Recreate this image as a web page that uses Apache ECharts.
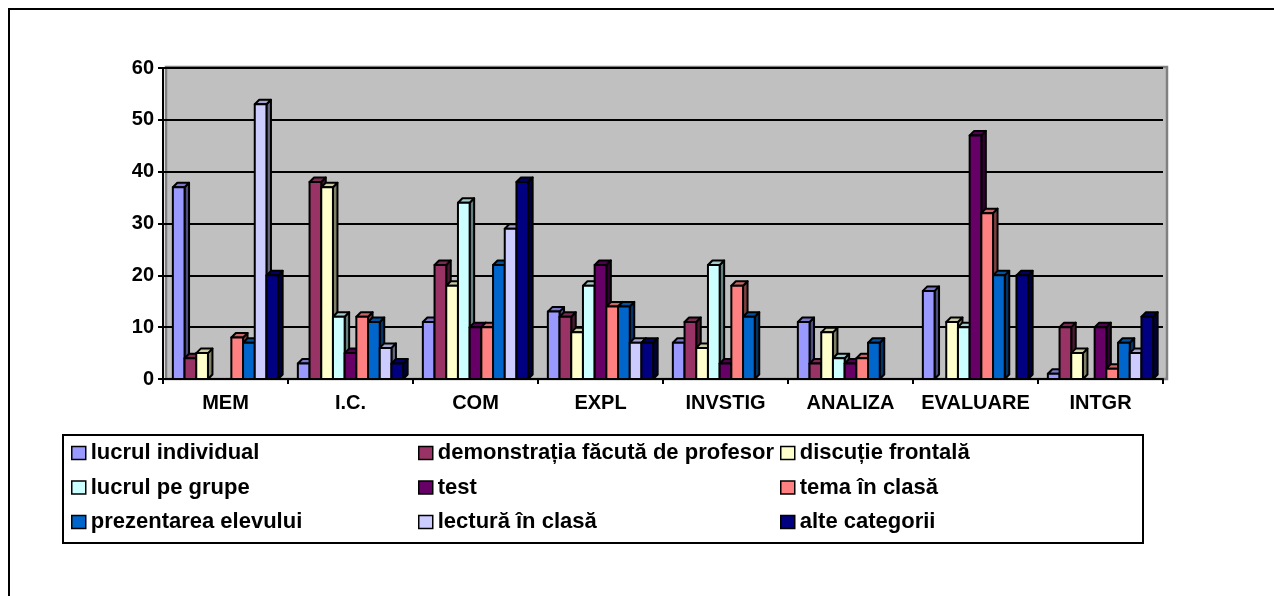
<!DOCTYPE html>
<html>
<head>
<meta charset="utf-8">
<script src="https://cdn.jsdelivr.net/npm/echarts@6/dist/echarts.min.js"></script>
<style>
html,body{margin:0;padding:0;background:#fff;}
#chart{width:1274px;height:596px;}
</style>
</head>
<body>
<div id="chart"></div>
<script>
const categories = ['MEM', 'I.C.', 'COM', 'EXPL', 'INVSTIG', 'ANALIZA', 'EVALUARE', 'INTGR'];
const seriesNames = ['lucrul individual', 'demonstrația făcută de profesor', 'discuție frontală',
  'lucrul pe grupe', 'test', 'tema în clasă', 'prezentarea elevului', 'lectură în clasă', 'alte categorii'];
const seriesColors = ['#9999FF', '#993366', '#FFFFCC', '#CCFFFF', '#660066', '#FF8080', '#0066CC', '#CCCCFF', '#000080'];
const lucrulIndividual = [37, 3, 11, 13, 7, 11, 17, 1];
const demonstratia     = [4, 38, 22, 12, 11, 3, 0, 10];
const discutieFrontala = [5, 37, 18, 9, 6, 9, 11, 5];
const lucrulPeGrupe    = [0, 12, 34, 18, 22, 4, 10, 0];
const test             = [0, 5, 10, 22, 3, 3, 47, 10];
const temaInClasa      = [8, 12, 10, 14, 18, 4, 32, 2];
const prezentarea      = [7, 11, 22, 14, 12, 7, 20, 7];
const lecturaInClasa   = [53, 6, 29, 7, 0, 0, 0, 5];
const alteCategorii    = [20, 3, 38, 7, 0, 0, 20, 12];
const yTicks = [0, 10, 20, 30, 40, 50, 60];

const allValues = [lucrulIndividual, demonstratia, discutieFrontala, lucrulPeGrupe, test,
  temaInClasa, prezentarea, lecturaInClasa, alteCategorii];

function shade(hex, f) {
  const n = parseInt(hex.slice(1), 16);
  const r = Math.round(((n >> 16) & 255) * f);
  const g = Math.round(((n >> 8) & 255) * f);
  const b = Math.round((n & 255) * f);
  return 'rgb(' + r + ',' + g + ',' + b + ')';
}

const FONT = 'Liberation Sans, Arial, sans-serif';
const NS = seriesNames.length;
const DEPTH = 4.5;

function makeRender(idx) {
  const col = seriesColors[idx];
  return function (params, api) {
    const cat = api.value(0);
    const v = api.value(1);
    if (!v) return null;
    const base = api.coord([cat, 0]);
    const top = api.coord([cat, v]);
    const band = api.size([1, 0])[0];
    const pitch = band * 0.0936;
    const x = base[0] - (NS / 2) * pitch + idx * pitch;
    const w = pitch;
    const y0 = base[1];
    const y1 = top[1];
    const d = DEPTH;
    const stroke = { stroke: '#000', lineWidth: 2, lineJoin: 'round' };
    return {
      type: 'group',
      children: [
        { type: 'polygon', shape: { points: [[x + w, y1], [x + w + d, y1 - d], [x + w + d, y0 - d], [x + w, y0]] },
          style: Object.assign({ fill: shade(col, 0.5) }, stroke) },
        { type: 'polygon', shape: { points: [[x, y1], [x + d, y1 - d], [x + w + d, y1 - d], [x + w, y1]] },
          style: Object.assign({ fill: shade(col, 0.8) }, stroke) },
        { type: 'rect', shape: { x: x, y: y1, width: w, height: y0 - y1 },
          style: Object.assign({ fill: col }, stroke) }
      ]
    };
  };
}

const series = seriesNames.map(function (name, i) {
  return {
    type: 'custom',
    name: name,
    itemStyle: { color: seriesColors[i] },
    encode: { x: 0, y: 1 },
    renderItem: makeRender(i),
    data: allValues[i].map(function (v, c) { return [c, v]; }),
    z: 3
  };
});

const legendCommon = {
  orient: 'vertical',
  icon: 'rect',
  itemWidth: 14,
  itemHeight: 13,
  itemGap: 12.5,
  itemTextGap: 5,
  selectedMode: false,
  itemStyle: { borderColor: '#000', borderWidth: 1.5 },
  textStyle: { fontFamily: FONT, fontWeight: 'bold', fontSize: 22, color: '#000', lineHeight: 22, padding: 0 },
  padding: 0,
  top: 442
};

const chart = echarts.init(document.getElementById('chart'), null, { renderer: 'canvas' });
chart.setOption({
  animation: false,
  backgroundColor: '#fff',
  graphic: [
    { type: 'rect', shape: { x: 9, y: 9, width: 1300, height: 620 }, style: { fill: 'none', stroke: '#000', lineWidth: 2 }, z: -10 },
    { type: 'rect', shape: { x: 166, y: 67, width: 1001, height: 312 }, style: { fill: '#C0C0C0', stroke: '#808080', lineWidth: 2.5 }, z: -5 },
    { type: 'rect', shape: { x: 63, y: 435, width: 1080, height: 108 }, style: { fill: 'none', stroke: '#000', lineWidth: 2 }, z: -5 }
  ],
  grid: { left: 163, right: 111, top: 68, bottom: 217, containLabel: false },
  xAxis: {
    type: 'category',
    data: categories,
    boundaryGap: true,
    axisLine: { show: true, lineStyle: { color: '#000', width: 2 } },
    axisTick: { show: true, alignWithLabel: false, length: 5, lineStyle: { color: '#000', width: 2 } },
    axisLabel: { fontFamily: FONT, fontWeight: 'bold', fontSize: 20, color: '#000', margin: 14, interval: 0 },
    splitLine: { show: false }
  },
  yAxis: {
    type: 'value',
    min: 0,
    max: 60,
    interval: 10,
    axisLine: { show: true, lineStyle: { color: '#000', width: 2 } },
    axisTick: { show: true, length: 5, lineStyle: { color: '#000', width: 2 } },
    axisLabel: {
      fontFamily: FONT, fontWeight: 'bold', fontSize: 20, color: '#000', margin: 9,
      formatter: function (v) { return yTicks.indexOf(v) >= 0 ? String(v) : ''; }
    },
    splitLine: { show: true, lineStyle: { color: '#000', width: 2 } }
  },
  legend: [
    Object.assign({}, legendCommon, { left: 71, data: [seriesNames[0], seriesNames[3], seriesNames[6]] }),
    Object.assign({}, legendCommon, { left: 418, data: [seriesNames[1], seriesNames[4], seriesNames[7]] }),
    Object.assign({}, legendCommon, { left: 780, data: [seriesNames[2], seriesNames[5], seriesNames[8]] })
  ],
  series: series
});
</script>
</body>
</html>
